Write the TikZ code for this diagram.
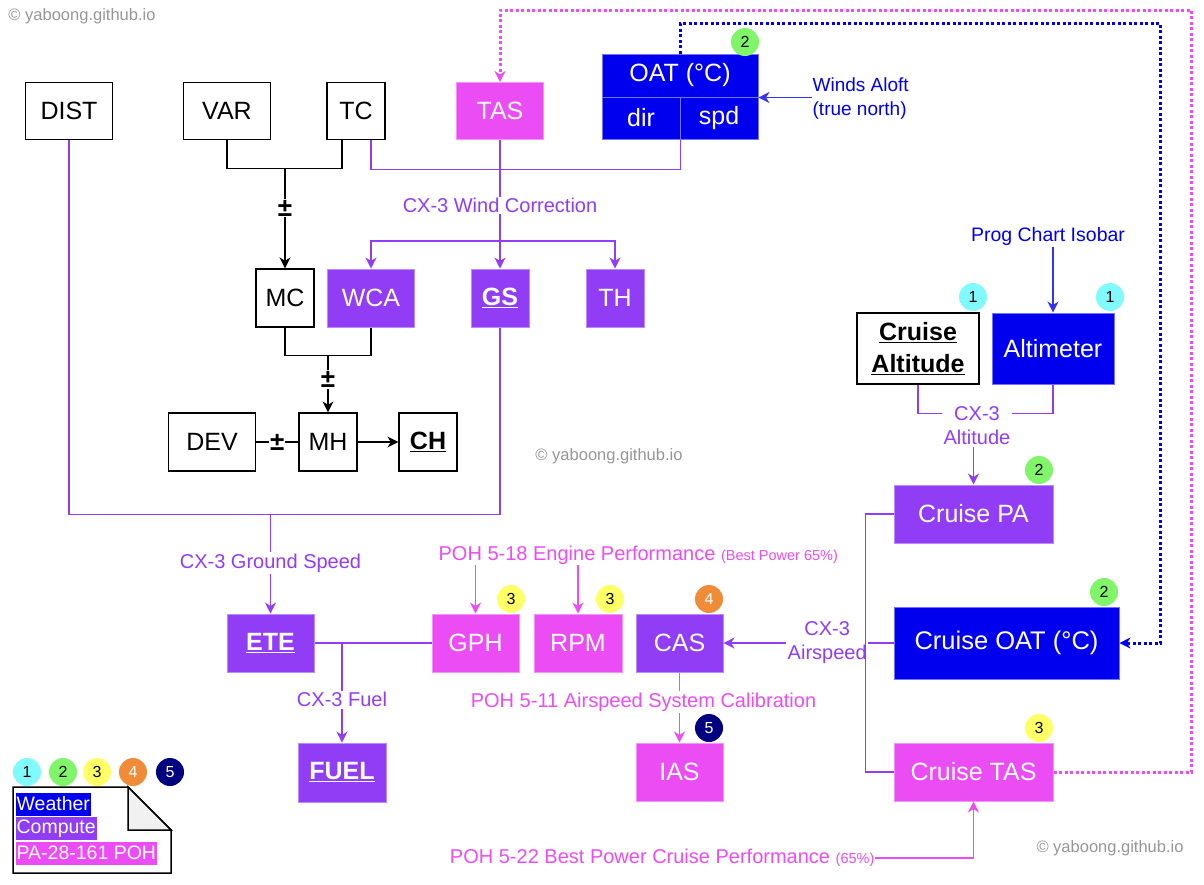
\documentclass[tikz,border=0pt]{standalone}
\usepackage{fontspec}
\setmainfont{Liberation Sans}
\usetikzlibrary{arrows.meta}

\definecolor{wx}{RGB}{0,0,238}
\definecolor{cmp}{RGB}{145,60,245}
\definecolor{poh}{RGB}{236,76,243}
\definecolor{mark}{RGB}{150,150,150}
\definecolor{fold}{RGB}{241,241,241}
\definecolor{c1}{RGB}{128,250,250}
\definecolor{c2}{RGB}{128,245,105}
\definecolor{c3}{RGB}{255,255,102}
\definecolor{c4}{RGB}{240,140,56}
\definecolor{c5}{RGB}{0,0,128}

\begin{document}
\begin{tikzpicture}[x=1pt,y=-1pt,line width=1.3pt,
  >={Stealth[length=11pt,width=11pt,inset=3.5pt]},
  box/.style={draw=black,fill=white,minimum width=87pt,minimum height=57pt,
    inner sep=0pt,font=\fontsize{25}{28}\selectfont},
  sbox/.style={box,minimum width=58pt},
  wxbox/.style={box,fill=wx,draw=wx!55!white,line width=1pt,text=white},
  cmpbox/.style={box,fill=cmp,draw=cmp!60!white,line width=1pt,text=white},
  pohbox/.style={box,fill=poh,draw=poh!60!white,line width=1pt,text=white},
  lbl/.style={fill=white,inner sep=1.5pt,text=cmp,font=\fontsize{20}{24}\selectfont},
  pm/.style={fill=white,inner sep=1pt,font=\fontsize{26}{26}\selectfont\bfseries},
  badge/.style={circle,minimum size=28pt,inner sep=0pt,font=\fontsize{16}{18}\selectfont},
  wmark/.style={text=mark,font=\fontsize{16.5}{18}\selectfont},
  blk/.style={draw=black},
  cmpl/.style={draw=cmp},
  pohl/.style={draw=poh},
  wxl/.style={draw=wx!80!white},
  dots/.style={line width=3pt,dash pattern=on 3pt off 2.5pt},
  lgd/.style={anchor=west,text=white,inner sep=1pt,minimum height=23pt,
    font=\fontsize{19.5}{22}\selectfont}]
\useasboundingbox (0,0) rectangle (1204,884);

% watermarks
\node[wmark] (wm1) at (82,16) {© yaboong.github.io};
\node[wmark] (wm2) at (609,456) {© yaboong.github.io};
\node[wmark] (wm3) at (1110,848) {© yaboong.github.io};

% top row
\node[box] (dist) at (69,111) {DIST};
\node[box] (var) at (227,111) {VAR};
\node[sbox] (tc) at (356,111) {TC};
\node[pohbox] (tas) at (500,111) {TAS};
\node[wxbox,minimum width=156pt,minimum height=43pt] (oat) at (680,75.5) {OAT (°C)};
\node[wxbox,minimum width=78pt,minimum height=42pt] (dir) at (641,118) {dir};
\node[wxbox,minimum width=78pt,minimum height=42pt] (spd) at (719,118) {spd};
\node[badge,fill=c2] (boat) at (745,42) {2};
\node[anchor=west,align=left,text=wx,inner sep=0pt,
  font=\fontsize{19}{24}\selectfont] (winds) at (812,99) {Winds Aloft\\(true north)};

% heading
\node[sbox,minimum height=58pt] (mc) at (285,298) {MC};
\node[cmpbox,minimum height=58pt] (wca) at (371,298) {WCA};
\node[cmpbox,minimum width=58pt,minimum height=58pt] (gs) at (500,298) {\underline{\textbf{GS}}};
\node[cmpbox,minimum width=58pt,minimum height=58pt] (th) at (615,298) {TH};
\node[box,minimum height=58pt] (dev) at (212,442) {DEV};
\node[sbox,minimum height=58pt] (mh) at (328,442) {MH};
\node[sbox,minimum height=58pt] (ch) at (428,442) {\underline{\textbf{CH}}};

% cruise column
\node[text=wx,font=\fontsize{19.5}{22}\selectfont,inner sep=1pt] (prog) at (1048,236) {Prog Chart Isobar};
\node[box,minimum width=122pt,minimum height=71pt,align=center,
  font=\fontsize{25}{32}\selectfont] (calt) at (918,348.5)
  {\underline{\textbf{Cruise}}\\\underline{\textbf{Altitude}}};
\node[wxbox,minimum width=122pt,minimum height=71pt] (alt) at (1053,348.5) {Altimeter};
\node[badge,fill=c1] (bcalt) at (973,297) {1};
\node[badge,fill=c1] (balt) at (1110,297) {1};
\node[lbl,align=center] (cxalt) at (977,426) {CX-3\\Altitude};
\node[cmpbox,minimum width=159pt,minimum height=58pt] (cpa) at (973.5,514) {Cruise PA};
\node[badge,fill=c2] (bcpa) at (1039,470) {2};
\node[wxbox,minimum width=225pt,minimum height=72pt,font=\fontsize{25.5}{28}\selectfont] (coat) at (1006.5,643) {Cruise OAT (°C)};
\node[badge,fill=c2] (bcoat) at (1104,592) {2};
\node[pohbox,minimum width=159pt,minimum height=58pt] (ctas) at (973.5,772) {Cruise TAS};
\node[badge,fill=c3] (bctas) at (1039,728) {3};

% bottom row
\node[cmpbox,minimum height=58pt] (ete) at (270.5,643) {\underline{\textbf{ETE}}};
\node[cmpbox,minimum width=88pt,minimum height=59pt] (fuel) at (342,772.5) {\underline{\textbf{FUEL}}};
\node[pohbox,minimum height=58pt] (gph) at (475.5,643) {GPH};
\node[pohbox,minimum width=88pt,minimum height=58pt] (rpm) at (578,643) {RPM};
\node[cmpbox,minimum height=58pt] (cas) at (679.5,643) {CAS};
\node[pohbox,minimum height=58pt] (ias) at (679.5,772) {IAS};
\node[badge,fill=c3] (bgph) at (511,599) {3};
\node[badge,fill=c3] (brpm) at (610,599) {3};
\node[badge,fill=c4,text=white] (bcas) at (709,599) {4};
\node[badge,fill=c5,text=white] (bias) at (709,728) {5};
\node[lbl,text=poh,anchor=west,inner sep=0pt] (poh518) at (438,555)
  {POH 5-18 Engine Performance {\fontsize{14.5}{16}\selectfont(Best Power 65\%)}};
\node[lbl,text=poh,anchor=east,inner sep=0pt] (poh522) at (875,858)
  {POH 5-22 Best Power Cruise Performance {\fontsize{14.5}{16}\selectfont(65\%)}};

% black heading lines
\draw[blk] (var.south) -- ++(0,28) coordinate (vt) -| ([xshift=-14pt]tc.south);
\draw[blk,->] (vt -| mc.north) -- node[pm,pos=0.4]{±} (mc.north);
\draw[blk] (mc.south) -- ++(0,28) coordinate (mw) -| (wca.south);
\draw[blk,->] (mw -| mh.north) -- node[pm,pos=0.42]{±} (mh.north);
\draw[blk] (dev) -- node[pm]{±} (mh);
\draw[blk,->] (mh) -- (ch);

% wind correction
\draw[cmpl] ([xshift=15pt]tc.south) -- ++(0,29) -| (dir.south east);
\draw[cmpl,->] (tas.south) -- node[lbl,pos=0.51]{CX-3 Wind Correction} (gs.north);
\coordinate (wc) at (500,241);
\draw[cmpl,<->] (wca.north) |- (wc) -| (th.north);

% ground speed and fuel
\draw[cmpl] (dist.south) -- ++(0,374) coordinate (gsj) -| (gs.south);
\draw[cmpl,->] (gsj -| ete.north) -- node[lbl,pos=0.49]{CX-3 Ground Speed} (ete.north);
\draw[cmpl] (ete) -- (gph);
\draw[cmpl,->] (ete.east -| fuel.north) -- node[lbl,pos=0.57]{CX-3 Fuel} (fuel.north);

% POH lookups
\draw[pohl,->] (poh518.south -| gph.north) -- (gph.north);
\draw[pohl,->] (poh518.south -| rpm.north) -- (rpm.north);
\draw[pohl,->] (cas.south) -- node[lbl,text=poh,pos=0.42,xshift=-36pt]{POH 5-11 Airspeed System Calibration} (ias.north);
\draw[pohl,->] (poh522.east) -| (ctas.south);

% weather inputs
\draw[wxl,->] (winds.west |- oat.south east) -- (oat.south east);
\draw[wxl,->] (prog.south -| alt.north) -- (alt.north);

% cruise computations
\draw[cmpl] (calt.south) -- ++(0,29) -| (alt.south);
\node[lbl,align=center] at (cxalt) {CX-3\\Altitude};
\draw[cmpl,->] (cxalt.south -| cpa.north) -- (cpa.north);
\draw[cmpl,->] (coat.west) -- node[lbl,align=center,pos=0.39]{CX-3\\Airspeed} (cas.east);
\draw[cmpl] (cpa.west) -- ++(-28,0) |- (ctas.west);

% feedback loops
\draw[draw=wx,dots,->] (oat.north) -- ++(0,-30) -| ([xshift=41pt]coat.east) -- (coat.east);
\draw[draw=poh,dots,->] (ctas.east) -- ++(138,0) |- ([yshift=72pt]tas.north) -- (tas.north);

% legend
\foreach \n/\x/\c/\t in {1/27/c1/black,2/63/c2/black,3/97/c3/black,4/133/c4/white,5/170/c5/white}
  \node[badge,fill=\c,text=\t] (lg\n) at (\x,772) {\n};
\draw[line width=1.5pt,fill=white] (13,787) -- (128,787) -- (171,830) -- (171,873) -- (13,873) -- cycle;
\draw[line width=1.5pt,fill=fold] (128,787) -- (128,830) -- (171,830) -- cycle;
\node[lgd,fill=wx] (lgwx) at (15,804) {Weather};
\node[lgd,fill=cmp] (lgcmp) at (15,828.5) {Compute};
\node[lgd,fill=poh] (lgpoh) at (15,853) {PA-28-161 POH};
\end{tikzpicture}
\end{document}
